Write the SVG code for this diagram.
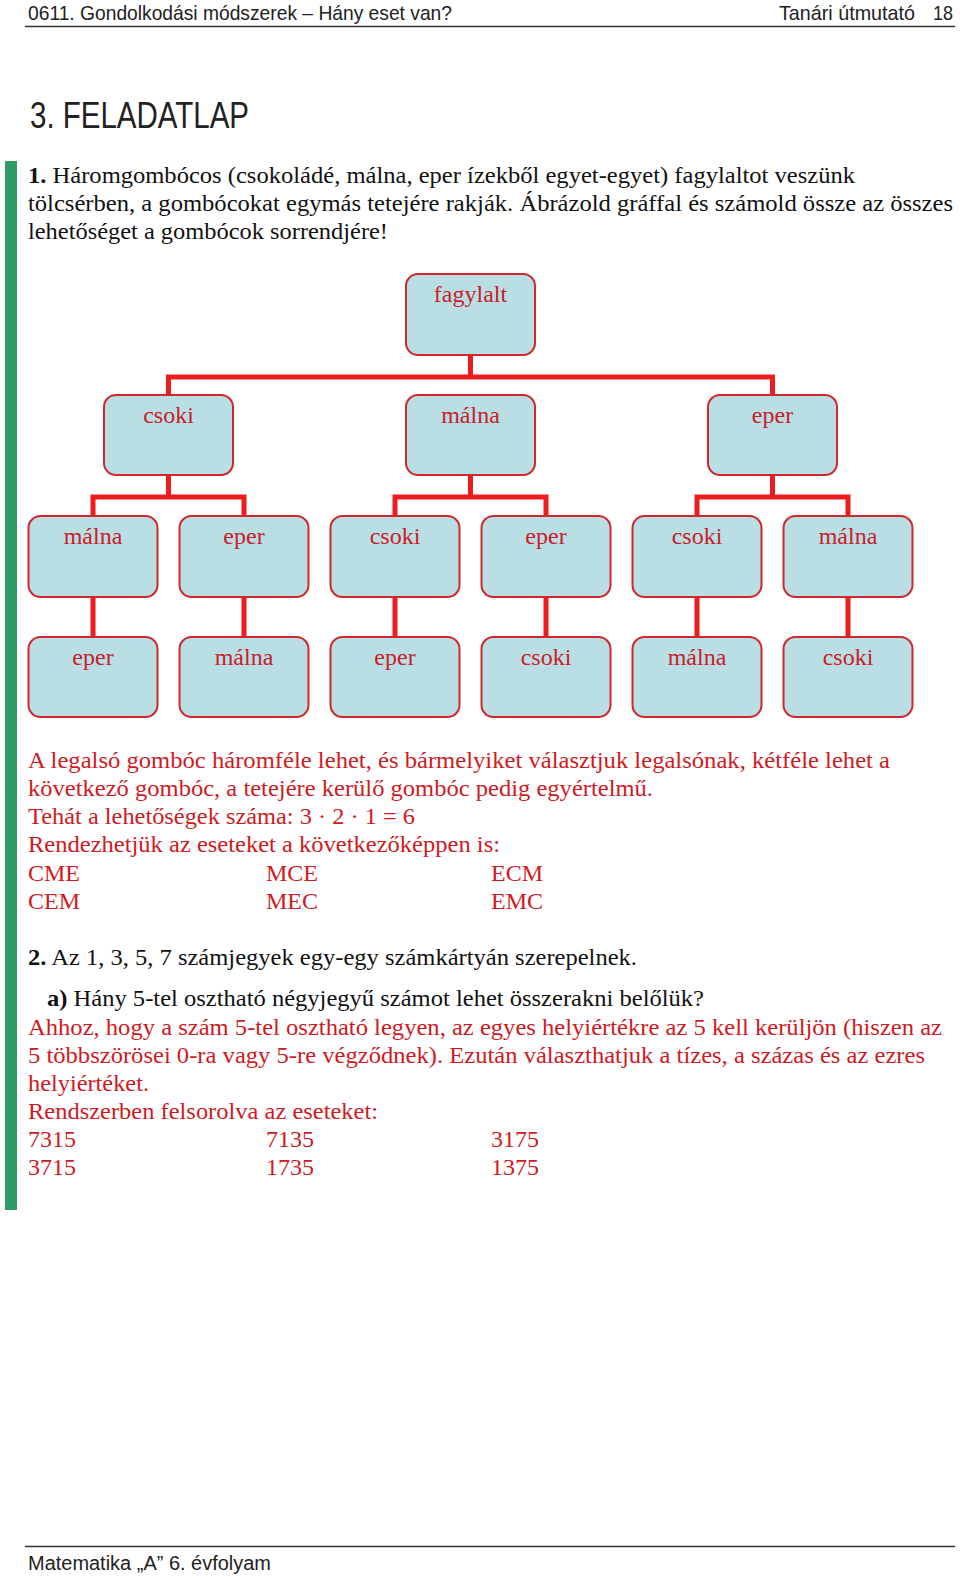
<svg xmlns="http://www.w3.org/2000/svg" width="960" height="1577" viewBox="0 0 960 1577">
<style>
.hdr{font-family:"Liberation Sans",Arial,sans-serif;fill:#222;}
.bk{font-family:"Liberation Serif","Times New Roman",serif;font-size:24px;fill:#111;}
.rd{font-family:"Liberation Serif","Times New Roman",serif;font-size:24px;fill:#cf1a1f;}
.box{fill:#b9dfe4;stroke:#d1262b;stroke-width:2;}
.lbl{font-family:"Liberation Serif","Times New Roman",serif;font-size:24px;fill:#c8202a;text-anchor:middle;}
.con{fill:none;stroke:#ee1c1c;stroke-width:5;stroke-linejoin:miter;}
</style>
<rect width="960" height="1577" fill="#fff"/>
<!-- header -->
<text class="hdr" x="28" y="20" font-size="21" textLength="424" lengthAdjust="spacingAndGlyphs">0611. Gondolkodási módszerek – Hány eset van?</text>
<text class="hdr" x="779" y="20" font-size="21" textLength="136" lengthAdjust="spacingAndGlyphs">Tanári útmutató</text>
<text class="hdr" x="933" y="20" font-size="21" textLength="20" lengthAdjust="spacingAndGlyphs">18</text>
<line x1="25" y1="26.5" x2="955" y2="26.5" stroke="#333" stroke-width="1.5"/>
<text class="hdr" x="30" y="128" font-size="36" textLength="219" lengthAdjust="spacingAndGlyphs">3. FELADATLAP</text>
<!-- green bar -->
<rect x="5" y="161" width="12" height="1049" fill="#2f9a65"/>
<!-- task 1 -->
<text class="bk" x="28" y="183" textLength="827" lengthAdjust="spacingAndGlyphs"><tspan font-weight="bold">1.</tspan> Háromgombócos (csokoládé, málna, eper ízekből egyet-egyet) fagylaltot veszünk</text>
<text class="bk" x="28" y="211" textLength="925" lengthAdjust="spacingAndGlyphs">tölcsérben, a gombócokat egymás tetejére rakják. Ábrázold gráffal és számold össze az összes</text>
<text class="bk" x="28" y="239" textLength="360" lengthAdjust="spacingAndGlyphs">lehetőséget a gombócok sorrendjére!</text>
<!-- connectors -->
<g id="connectors">
<path class="con" d="M470.5 355 V377 M168.5 395 V377 H772.5 V395"/>
<path class="con" d="M168.5 475 V497 M93 516 V497 H244 V516"/>
<path class="con" d="M470.5 475 V497 M395 516 V497 H546 V516"/>
<path class="con" d="M772.5 475 V497 M697 516 V497 H848 V516"/>
<path class="con" d="M93 597 V637 M244 597 V637 M395 597 V637 M546 597 V637 M697 597 V637 M848 597 V637"/>
</g>
<!-- nodes -->
<g id="n-fagylalt"><rect class="box" x="406" y="274" width="129" height="81" rx="12"/><text class="lbl" x="470.5" y="302">fagylalt</text></g>
<g id="n-csoki"><rect class="box" x="104" y="395" width="129" height="80" rx="12"/><text class="lbl" x="168.5" y="423">csoki</text></g>
<g id="n-malna"><rect class="box" x="406" y="395" width="129" height="80" rx="12"/><text class="lbl" x="470.5" y="423">málna</text></g>
<g id="n-eper"><rect class="box" x="708" y="395" width="129" height="80" rx="12"/><text class="lbl" x="772.5" y="423">eper</text></g>
<g id="n-cm"><rect class="box" x="28.5" y="516" width="129" height="81" rx="12"/><text class="lbl" x="93" y="544">málna</text></g>
<g id="n-ce"><rect class="box" x="179.5" y="516" width="129" height="81" rx="12"/><text class="lbl" x="244" y="544">eper</text></g>
<g id="n-mc"><rect class="box" x="330.5" y="516" width="129" height="81" rx="12"/><text class="lbl" x="395" y="544">csoki</text></g>
<g id="n-me"><rect class="box" x="481.5" y="516" width="129" height="81" rx="12"/><text class="lbl" x="546" y="544">eper</text></g>
<g id="n-ec"><rect class="box" x="632.5" y="516" width="129" height="81" rx="12"/><text class="lbl" x="697" y="544">csoki</text></g>
<g id="n-em"><rect class="box" x="783.5" y="516" width="129" height="81" rx="12"/><text class="lbl" x="848" y="544">málna</text></g>
<g id="n-cme"><rect class="box" x="28.5" y="637" width="129" height="80" rx="12"/><text class="lbl" x="93" y="665">eper</text></g>
<g id="n-cem"><rect class="box" x="179.5" y="637" width="129" height="80" rx="12"/><text class="lbl" x="244" y="665">málna</text></g>
<g id="n-mce"><rect class="box" x="330.5" y="637" width="129" height="80" rx="12"/><text class="lbl" x="395" y="665">eper</text></g>
<g id="n-mec"><rect class="box" x="481.5" y="637" width="129" height="80" rx="12"/><text class="lbl" x="546" y="665">csoki</text></g>
<g id="n-ecm"><rect class="box" x="632.5" y="637" width="129" height="80" rx="12"/><text class="lbl" x="697" y="665">málna</text></g>
<g id="n-emc"><rect class="box" x="783.5" y="637" width="129" height="80" rx="12"/><text class="lbl" x="848" y="665">csoki</text></g>
<!-- answer 1 -->
<text class="rd" x="28" y="768" textLength="862" lengthAdjust="spacingAndGlyphs">A legalsó gombóc háromféle lehet, és bármelyiket választjuk legalsónak, kétféle lehet a</text>
<text class="rd" x="28" y="796" textLength="625" lengthAdjust="spacingAndGlyphs">következő gombóc, a tetejére kerülő gombóc pedig egyértelmű.</text>
<text class="rd" x="28" y="824" textLength="387" lengthAdjust="spacingAndGlyphs">Tehát a lehetőségek száma: 3 · 2 · 1 = 6</text>
<text class="rd" x="28" y="852" textLength="472" lengthAdjust="spacingAndGlyphs">Rendezhetjük az eseteket a következőképpen is:</text>
<text class="rd" x="28" y="881">CME</text><text class="rd" x="266" y="881">MCE</text><text class="rd" x="491" y="881">ECM</text>
<text class="rd" x="28" y="909">CEM</text><text class="rd" x="266" y="909">MEC</text><text class="rd" x="491" y="909">EMC</text>
<!-- task 2 -->
<text class="bk" x="28" y="965" textLength="609" lengthAdjust="spacingAndGlyphs"><tspan font-weight="bold">2.</tspan> Az 1, 3, 5, 7 számjegyek egy-egy számkártyán szerepelnek.</text>
<text class="bk" x="47" y="1006" textLength="657" lengthAdjust="spacingAndGlyphs"><tspan font-weight="bold">a)</tspan> Hány 5-tel osztható négyjegyű számot lehet összerakni belőlük?</text>
<text class="rd" x="28" y="1035" textLength="914" lengthAdjust="spacingAndGlyphs">Ahhoz, hogy a szám 5-tel osztható legyen, az egyes helyiértékre az 5 kell kerüljön (hiszen az</text>
<text class="rd" x="28" y="1063" textLength="897" lengthAdjust="spacingAndGlyphs">5 többszörösei 0-ra vagy 5-re végződnek). Ezután választhatjuk a tízes, a százas és az ezres</text>
<text class="rd" x="28" y="1091" textLength="121" lengthAdjust="spacingAndGlyphs">helyiértéket.</text>
<text class="rd" x="28" y="1119" textLength="350" lengthAdjust="spacingAndGlyphs">Rendszerben felsorolva az eseteket:</text>
<text class="rd" x="28" y="1147">7315</text><text class="rd" x="266" y="1147">7135</text><text class="rd" x="491" y="1147">3175</text>
<text class="rd" x="28" y="1175">3715</text><text class="rd" x="266" y="1175">1735</text><text class="rd" x="491" y="1175">1375</text>
<!-- footer -->
<line x1="25" y1="1546.5" x2="955" y2="1546.5" stroke="#333" stroke-width="1.5"/>
<text class="hdr" x="28" y="1570" font-size="20" textLength="243" lengthAdjust="spacingAndGlyphs">Matematika „A” 6. évfolyam</text>
</svg>
